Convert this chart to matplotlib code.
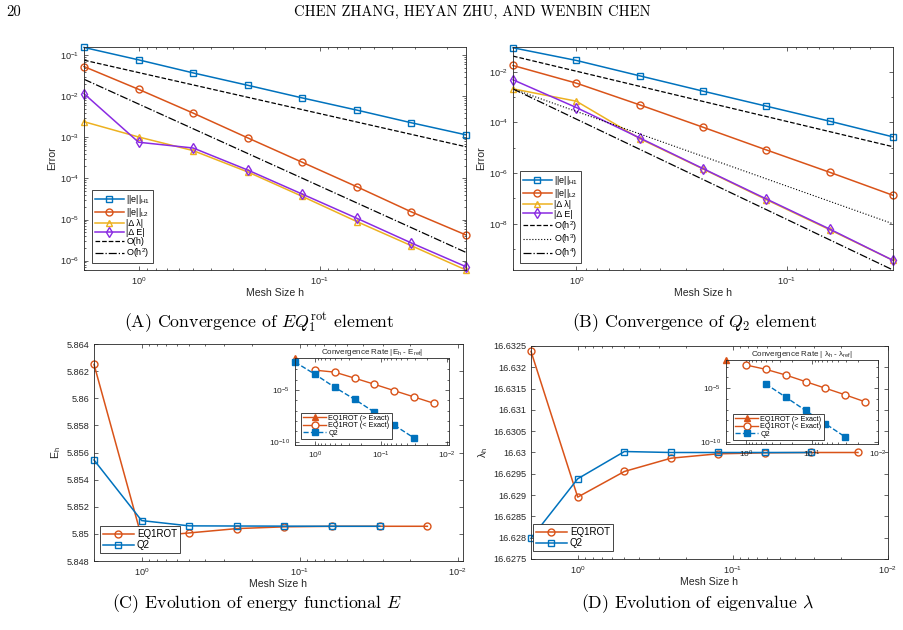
import matplotlib
matplotlib.use("Agg")
import matplotlib.pyplot as plt
from matplotlib.ticker import LogLocator, NullFormatter, FuncFormatter, MultipleLocator

plt.rcParams["font.family"] = "Liberation Sans"
plt.rcParams["mathtext.fontset"] = "custom"
plt.rcParams["mathtext.rm"] = "Liberation Sans"
plt.rcParams["mathtext.it"] = "Liberation Sans:italic"
plt.rcParams["mathtext.bf"] = "Liberation Sans:bold"

# ---- data ----
h8 = [2, 1, 0.5, 0.25, 0.125, 0.0625, 0.03125, 0.015625]
h7 = h8[:7]
h_ends_A = [2, 0.015625]
h_ends_B = [2, 0.03125]

# (A) EQ1rot convergence
err_H1_A = [0.154, 0.0769, 0.037, 0.0185, 0.0091, 0.0046, 0.00226, 0.00115]
err_L2_A = [0.0528, 0.01475, 0.00389, 0.00097, 2.47e-4, 6.27e-5, 1.53e-5, 4.2e-6]
dlam_A = [2.4e-3, 1.02e-3, 4.75e-4, 1.44e-4, 3.65e-5, 8.9e-6, 2.3e-6, 5.9e-7]
dE_A = [0.01155, 7.6e-4, 5.5e-4, 1.6e-4, 4.15e-5, 1.07e-5, 2.68e-6, 7.1e-7]
ref_h1_A = [0.0755, 5.9e-4]
ref_h2_A = [0.0259, 1.58e-6]

# (B) Q2 convergence
err_H1_B = [0.0885, 0.028, 6.93e-3, 1.72e-3, 4.39e-4, 1.12e-4, 2.69e-5]
err_L2_B = [0.0177, 3.56e-3, 4.95e-4, 6.48e-5, 8.24e-6, 1.08e-6, 1.33e-7]
dlam_B = [2.12e-3, 6.9e-4, 2.31e-5, 1.46e-6, 8.97e-8, 5.85e-9, 3.6e-10]
dE_B = [4.82e-3, 3.88e-4, 2.45e-5, 1.51e-6, 9.55e-8, 6.2e-9, 3.6e-10]
ref_h2_B = [0.0415, 1.1e-5]
ref_h3_B = [2.1e-3, 1.0e-8]
ref_h4_B = [2.1e-3, 1.5e-10]

# (C) energy functional
E_eq1rot = [5.8625, 5.84975, 5.85007, 5.85039, 5.85052, 5.85056, 5.85056, 5.85056]
E_q2 = [5.85545, 5.85098, 5.85059, 5.85058, 5.85057, 5.85056, 5.85056]
h_gt_C = [2]
Eerr_gt = [0.012]
h_lt_C = h8[1:]
Eerr_lt = [8.1e-4, 5.2e-4, 1.38e-4, 3.5e-5, 8.5e-6, 2.1e-6, 5.1e-7]
Eerr_q2 = [4.9e-3, 3.3e-4, 1.8e-5, 1.25e-6, 7.2e-8, 4e-9, 2.3e-10]

# (D) eigenvalue
lam_eq1rot = [16.632375, 16.628953, 16.629555, 16.629867, 16.629969, 16.629992, 16.63, 16.63]
lam_q2 = [16.627984, 16.629383, 16.630023, 16.63, 16.63, 16.63, 16.63]
h_gt_D = [2]
lerr_gt = [4.2e-3]
h_lt_D = h8[1:]
lerr_lt = [1.45e-3, 5.7e-4, 1.7e-4, 4.1e-5, 1e-5, 2.4e-6, 5.4e-7]
h_q2_D = [0.5, 0.25, 0.125, 0.0625, 0.03125]
lerr_q2 = [2.5e-5, 1.5e-6, 8.5e-8, 4.9e-9, 2.9e-10]

BLUE = "#0072BD"
ORANGE = "#D95319"
YELLOW = "#EDB120"
PURPLE = "#8A2BE2"
DARK = "#262626"

W, H = 904, 630
fig = plt.figure(figsize=(W / 100, H / 100), dpi=100)


def rect(l, t, r, b):
    return [l / W, 1 - b / H, (r - l) / W, (b - t) / H]


def style(ax, size=6.6):
    ax.tick_params(which="both", direction="in", top=True, right=True,
                   labelsize=size, colors=DARK, width=0.5)
    ax.tick_params(which="major", length=3)
    ax.tick_params(which="minor", length=1.6)
    for s in ax.spines.values():
        s.set_linewidth(0.6)
        s.set_color(DARK)


def log_x(ax, left, right):
    ax.set_xscale("log")
    ax.set_xlim(left, right)
    ax.xaxis.set_major_locator(LogLocator(base=10, numticks=10))
    ax.xaxis.set_minor_locator(LogLocator(base=10, subs=range(2, 10), numticks=20))
    ax.xaxis.set_minor_formatter(NullFormatter())


def legend_at(ax, x, y, size=6.3, spacing=0.12, hl=3.2, **kw):
    leg = ax.legend(loc="lower left", bbox_to_anchor=(x / W, 1 - y / H),
                    bbox_transform=fig.transFigure, fontsize=size,
                    fancybox=False, edgecolor=DARK, framealpha=1,
                    borderaxespad=0, handlelength=hl, labelspacing=spacing,
                    borderpad=0.3, handletextpad=0.3, **kw)
    leg.get_frame().set_linewidth(0.6)
    return leg


mk = dict(markersize=5, markerfacecolor="none", markeredgewidth=1.0, linewidth=1.1,
          clip_on=False)
ik = dict(markersize=5, lw=1.0, clip_on=False)

# ── (A) ──
axA = fig.add_axes(rect(84, 47, 466, 270))
axA.plot(h8, err_H1_A, "-s", color=BLUE, label=r"||e||$_{\rm H1}$", **mk)
axA.plot(h8, err_L2_A, "-o", color=ORANGE, label=r"||e||$_{\rm L2}$", **mk)
axA.plot(h8, dlam_A, "-^", color=YELLOW, label="|Δ λ|", **mk)
axA.plot(h8, dE_A, "-d", color=PURPLE, label="|Δ E|", **mk)
axA.plot(h_ends_A, ref_h1_A, "--", color="k", lw=0.9, label="O(h)")
axA.plot(h_ends_A, ref_h2_A, "-.", color="k", lw=0.9, label=r"O(h$^2$)")
log_x(axA, 2, 0.015625)
axA.set_yscale("log")
axA.set_ylim(5.9e-7, 0.158)
axA.yaxis.set_minor_formatter(NullFormatter())
style(axA)
axA.set_xlabel("Mesh Size h", fontsize=7.6, color=DARK, labelpad=1)
axA.set_ylabel("Error", fontsize=7.6, color=DARK, labelpad=2)
legend_at(axA, 92, 263, size=6.5, spacing=0.02)

# ── (B) ──
axB = fig.add_axes(rect(513, 47, 893, 270))
axB.plot(h7, err_H1_B, "-s", color=BLUE, label=r"||e||$_{\rm H1}$", **mk)
axB.plot(h7, err_L2_B, "-o", color=ORANGE, label=r"||e||$_{\rm L2}$", **mk)
axB.plot(h7, dlam_B, "-^", color=YELLOW, label="|Δ λ|", **mk)
axB.plot(h7, dE_B, "-d", color=PURPLE, label="|Δ E|", **mk)
axB.plot(h_ends_B, ref_h2_B, "--", color="k", lw=0.9, label=r"O(h$^2$)")
axB.plot(h_ends_B, ref_h3_B, ":", color="k", lw=0.8, label=r"O(h$^3$)")
axB.plot(h_ends_B, ref_h4_B, "-.", color="k", lw=0.9, label=r"O(h$^4$)")
log_x(axB, 2, 0.03125)
axB.set_yscale("log")
axB.set_ylim(1.5e-10, 0.095)
axB.set_yticks([1e-8, 1e-6, 1e-4, 1e-2])
axB.yaxis.set_minor_locator(LogLocator(base=10, subs=[1.0], numticks=30))
axB.yaxis.set_minor_formatter(NullFormatter())
style(axB)
axB.set_xlabel("Mesh Size h", fontsize=7.6, color=DARK, labelpad=1)
axB.set_ylabel("Error", fontsize=7.6, color=DARK, labelpad=2)
legend_at(axB, 520, 263, size=6.5, spacing=0.02)

gfmt = FuncFormatter(lambda v, p: "%g" % round(v, 6))

# ── (C) ──
axC = fig.add_axes(rect(94, 344, 463, 561))
axC.plot(h8, E_eq1rot, "-o", color=ORANGE, label="EQ1ROT", **mk)
axC.plot(h7, E_q2, "-s", color=BLUE, label="Q2", **mk)
log_x(axC, 2, 0.0093)
axC.set_ylim(5.848, 5.864)
axC.yaxis.set_major_locator(MultipleLocator(0.002))
axC.yaxis.set_major_formatter(gfmt)
style(axC)
axC.set_xlabel("Mesh Size h", fontsize=7.6, color=DARK, labelpad=1)
axC.set_ylabel(r"E$_{\rm h}$", fontsize=7.6, color=DARK, labelpad=2)
legend_at(axC, 100, 553, size=7.0, spacing=0.1, hl=3.2)

insC = fig.add_axes(rect(295, 358, 449, 445))
insC.plot(h_gt_C, Eerr_gt, "-^", color=ORANGE, markerfacecolor=ORANGE,
          label="EQ1ROT (> Exact)", **ik)
insC.plot(h_lt_C, Eerr_lt, "-o", color=ORANGE, markerfacecolor="white",
          label="EQ1ROT (< Exact)", **ik)
insC.plot(h8[:7], Eerr_q2, "--s", color=BLUE, markerfacecolor=BLUE, label="Q2", **ik)
log_x(insC, 2, 0.0093)
insC.set_yscale("log")
insC.set_ylim(5e-11, 1.2e-2)
insC.set_yticks([1e-10, 1e-5])
insC.yaxis.set_minor_locator(LogLocator(base=10, subs=[1.0], numticks=30))
insC.yaxis.set_minor_formatter(NullFormatter())
style(insC, size=6)
insC.set_title(r"Convergence Rate |E$_{\rm h}$ - E$_{\rm ref}$|", fontsize=5.8,
               color=DARK, pad=1.5)
legend_at(insC, 301, 439, size=5.2, spacing=0.05)

# ── (D) ──
axD = fig.add_axes(rect(531, 346, 888, 559))
axD.plot(h8, lam_eq1rot, "-o", color=ORANGE, label="EQ1ROT", **mk)
axD.plot(h7, lam_q2, "-s", color=BLUE, label="Q2", **mk)
log_x(axD, 2, 0.01)
axD.set_ylim(16.6275, 16.6325)
axD.yaxis.set_major_locator(MultipleLocator(0.0005))
axD.yaxis.set_major_formatter(gfmt)
style(axD)
axD.set_xlabel("Mesh Size h", fontsize=7.6, color=DARK, labelpad=1)
axD.set_ylabel(r"λ$_{\rm h}$", fontsize=7.6, color=DARK, labelpad=2)
legend_at(axD, 533, 551, size=7.0, spacing=0.1, hl=3.2)

insD = fig.add_axes(rect(726, 360, 878, 444))
insD.plot(h_gt_D, lerr_gt, "-^", color=ORANGE, markerfacecolor=ORANGE,
          label="EQ1ROT (> Exact)", **ik)
insD.plot(h_lt_D, lerr_lt, "-o", color=ORANGE, markerfacecolor="white",
          label="EQ1ROT (< Exact)", **ik)
insD.plot(h_q2_D, lerr_q2, "--s", color=BLUE, markerfacecolor=BLUE, label="Q2", **ik)
log_x(insD, 2, 0.01)
insD.set_yscale("log")
insD.set_ylim(6.5e-11, 4.2e-3)
insD.set_yticks([1e-10, 1e-5])
insD.yaxis.set_minor_locator(LogLocator(base=10, subs=[1.0], numticks=30))
insD.yaxis.set_minor_formatter(NullFormatter())
style(insD, size=6)
insD.set_title(r"Convergence Rate | λ$_{\rm h}$ - λ$_{\rm ref}$|", fontsize=5.8,
               color=DARK, pad=1.5)
legend_at(insD, 733, 440, size=5.2, spacing=0.05)

# ── page text ──
serif = dict(family="cmr10", math_fontfamily="cm", color="black")
fig.text(6 / W, 1 - 12 / H, "20", fontsize=10.5, ha="left", va="center", **serif)
fig.text(472 / W, 1 - 12 / H, "CHEN ZHANG, HEYAN ZHU, AND WENBIN CHEN", fontsize=10.5,
         ha="center", va="center", **serif)
fig.text(259 / W, 1 - 323 / H, r"(A) Convergence of $EQ_1^{\rm rot}$ element",
         fontsize=12.8, ha="center", va="center", **serif)
fig.text(695 / W, 1 - 323 / H, r"(B) Convergence of $Q_2$ element",
         fontsize=12.8, ha="center", va="center", **serif)
fig.text(257 / W, 1 - 604 / H, r"(C) Evolution of energy functional $E$",
         fontsize=12.8, ha="center", va="center", **serif)
fig.text(698 / W, 1 - 604 / H, r"(D) Evolution of eigenvalue $\lambda$",
         fontsize=12.8, ha="center", va="center", **serif)

fig.savefig("out.png", dpi=100)
